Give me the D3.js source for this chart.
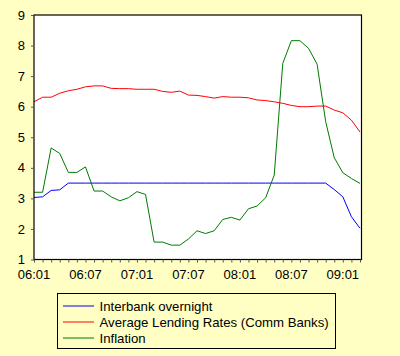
<!DOCTYPE html>
<html><head><meta charset="utf-8">
<script src="https://cdn.jsdelivr.net/npm/d3@7"></script>
<style>body{margin:0;background:#ffffc4;}svg{display:block;}</style>
</head><body>
<svg id="c" width="400" height="356"></svg>
<script>
const months = ["06:01","06:02","06:03","06:04","06:05","06:06","06:07","06:08","06:09","06:10","06:11","06:12",
"07:01","07:02","07:03","07:04","07:05","07:06","07:07","07:08","07:09","07:10","07:11","07:12",
"08:01","08:02","08:03","08:04","08:05","08:06","08:07","08:08","08:09","08:10","08:11","08:12",
"09:01","09:02","09:03"];
const tickLabels = ["06:01","06:07","07:01","07:07","08:01","08:07","09:01"];
const yTicks = [1,2,3,4,5,6,7,8,9];
const interbank = [3.03,3.05,3.26,3.28,3.5,3.5,3.5,3.5,3.5,3.5,3.5,3.5,3.5,3.5,3.5,3.5,3.5,3.5,3.5,3.5,
3.5,3.5,3.5,3.5,3.5,3.5,3.5,3.5,3.5,3.5,3.5,3.5,3.5,3.5,3.5,3.29,3.05,2.4,2.02];
const lending = [6.16,6.31,6.31,6.44,6.52,6.57,6.65,6.68,6.68,6.6,6.59,6.59,6.57,6.57,6.57,6.5,6.47,6.51,6.38,6.37,
6.33,6.28,6.33,6.31,6.31,6.29,6.22,6.2,6.16,6.11,6.04,6.0,6.0,6.02,6.02,5.89,5.8,5.56,5.17];
const inflation = [3.2,3.2,4.65,4.47,3.85,3.85,4.03,3.24,3.24,3.05,2.92,3.02,3.22,3.13,1.57,1.57,1.47,1.47,1.67,1.94,
1.85,1.94,2.31,2.38,2.29,2.66,2.75,3.02,3.76,7.42,8.16,8.16,7.91,7.39,5.51,4.33,3.84,3.65,3.49];
const seriesNames = ["Interbank overnight","Average Lending Rates (Comm Banks)","Inflation"];
const seriesColors = ["#0000ff","#ff0000","#007a00"];
const seriesData = [interbank, lending, inflation];

const svg = d3.select("#c");
const L = 34, R = 361.5, T = 15, B = 259.5;
const x = d3.scaleLinear().domain([0, months.length - 1]).range([L, 360]);
const y = d3.scaleLinear().domain([1, 9]).range([B, T]);

svg.append("rect").attr("x", L).attr("y", T).attr("width", R - L).attr("height", B - T)
  .attr("fill", "#ffffff");

const line = d3.line().x((d, i) => x(i)).y(d => y(d));
seriesData.forEach((s, k) => {
  svg.append("path").datum(s).attr("d", line).attr("fill", "none")
    .attr("stroke", seriesColors[k]).attr("stroke-width", 1);
});

svg.append("rect").attr("x", L).attr("y", T).attr("width", R - L).attr("height", B - T)
  .attr("fill", "none").attr("stroke", "#000").attr("stroke-width", 1.2);

// x axis
const xa = svg.append("g").attr("transform", `translate(0,${B})`)
  .call(d3.axisBottom(x).tickValues(d3.range(months.length)).tickSize(3).tickFormat(""));
xa.select(".domain").remove();
xa.selectAll("line").attr("stroke", "#555");
svg.append("g").selectAll("text").data(tickLabels).join("text")
  .attr("x", d => x(months.indexOf(d))).attr("y", 279)
  .attr("text-anchor", "middle").attr("font-family", "Liberation Sans, Arial, sans-serif")
  .attr("font-size", 13).attr("fill", "#000").text(d => d);

// y axis
const ya = svg.append("g").attr("transform", `translate(${L},0)`)
  .call(d3.axisLeft(y).tickValues(yTicks).tickSize(3).tickPadding(6).tickFormat(d3.format("d")));
ya.select(".domain").remove();
ya.selectAll("line").attr("stroke", "#555");
ya.selectAll("text").attr("font-family", "Liberation Sans, Arial, sans-serif")
  .attr("font-size", 13).attr("fill", "#000");

// legend
const lg = svg.append("g");
lg.append("rect").attr("x", 57.5).attr("y", 293.5).attr("width", 278).attr("height", 55)
  .attr("fill", "none").attr("stroke", "#000").attr("stroke-width", 1);
seriesNames.forEach((n, k) => {
  const cy = 306 + k * 16;
  lg.append("line").attr("x1", 63).attr("x2", 94).attr("y1", cy).attr("y2", cy)
    .attr("stroke", seriesColors[k]).attr("stroke-width", 1);
  lg.append("text").attr("x", 99.5).attr("y", cy + 4.5)
    .attr("font-family", "Liberation Sans, Arial, sans-serif").attr("font-size", 13.2)
    .attr("fill", "#000").text(n);
});
</script>
</body></html>
